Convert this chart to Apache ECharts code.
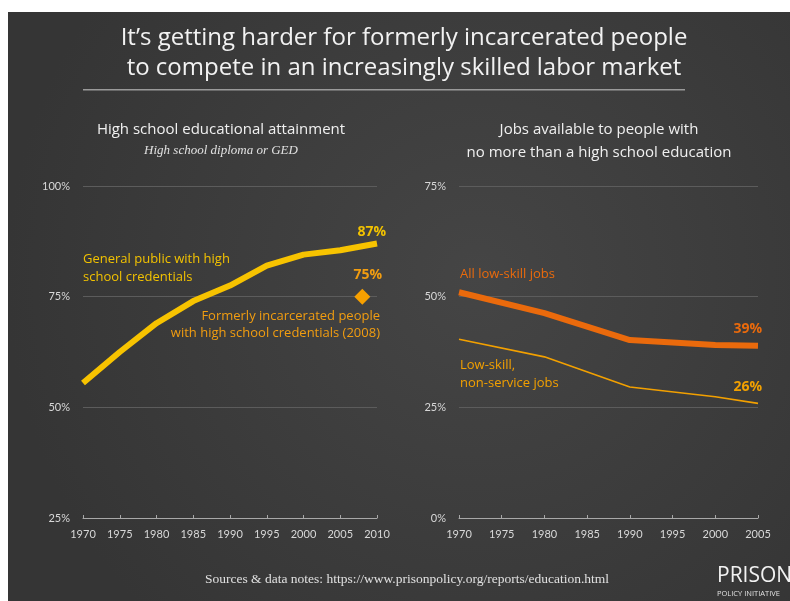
<!DOCTYPE html>
<html><head><meta charset="utf-8">
<script src="https://cdn.jsdelivr.net/npm/echarts@6/dist/echarts.min.js"></script>
<style>html,body{margin:0;padding:0;background:#fff}#c{width:790px;height:601px}</style>
</head><body><div id="c"></div>
<script>
const yearsLeft = [1970, 1975, 1980, 1985, 1990, 1995, 2000, 2005, 2010];
const generalPublic = [55.5, 62.5, 69, 74, 77.5, 82, 84.5, 85.5, 87];
const formerlyIncarcerated = [[2008, 75]];
const yearsRight = [1970, 1980, 1990, 2000, 2005];
const allLowSkill = [51, 46.3, 40.2, 39.1, 38.9];
const nonService = [40.4, 36.4, 29.6, 27.4, 25.9];

const F = 'Lato, "Open Sans", sans-serif';
const O = '"Open Sans", Lato, sans-serif';
const axisLbl = {color:'#d8d8d8', fontSize:11, fontFamily:F};
const chart = echarts.init(document.getElementById('c'));
function xAxis(gi,min,max){return {type:'value',gridIndex:gi,min:min,max:max,interval:5,
  axisLine:{show:true,lineStyle:{color:'#a8a8a8',width:1}},
  axisTick:{show:true,inside:true,length:3,lineStyle:{color:'#a8a8a8'}},
  axisLabel:Object.assign({margin:11,formatter:v=>String(v)},axisLbl),splitLine:{show:false}};}
function yAxis(gi,min,max){return {type:'value',gridIndex:gi,min:min,max:max,interval:25,
  axisLine:{show:false},axisTick:{show:false},
  axisLabel:Object.assign({margin:13,formatter:v=>v+'%'},axisLbl),
  splitLine:{show:true,lineStyle:{color:'#5c5c5c',width:1}}};}
chart.setOption({
  animation:false,
  backgroundColor:'#fff',
  grid:[{left:83,right:413,top:186,bottom:83},{left:459,right:32,top:186,bottom:83}],
  xAxis:[xAxis(0,1970,2010),xAxis(1,1970,2005)],
  yAxis:[yAxis(0,25,100),yAxis(1,0,75)],
  series:[
    {type:'line',xAxisIndex:0,yAxisIndex:0,data:yearsLeft.map((y,i)=>[y,generalPublic[i]]),
     symbol:'none',lineStyle:{color:'#f7c300',width:6},z:5},
    {type:'scatter',xAxisIndex:0,yAxisIndex:0,data:formerlyIncarcerated,symbol:'diamond',symbolSize:16,
     itemStyle:{color:'#f7a000',opacity:1},z:6},
    {type:'line',xAxisIndex:1,yAxisIndex:1,data:yearsRight.map((y,i)=>[y,allLowSkill[i]]),
     symbol:'none',lineStyle:{color:'#ea6a0c',width:6},z:5},
    {type:'line',xAxisIndex:1,yAxisIndex:1,data:yearsRight.map((y,i)=>[y,nonService[i]]),
     symbol:'none',lineStyle:{color:'#f2a000',width:1.6},z:5}
  ],
  graphic:[
    {type:'rect',z:-10,silent:true,shape:{x:8,y:12,width:782,height:589},
     style:{fill:{type:'radial',x:0.6,y:0.45,r:0.8,colorStops:[{offset:0,color:'#454545'},{offset:1,color:'#353535'}]}}},
    {type:'text',x:404,y:26,style:{text:"It\u2019s getting harder for formerly incarcerated people",fill:'#f2f2f2',font:'24px '+O,textAlign:'center'}},
    {type:'text',x:404,y:56,style:{text:"to compete in an increasingly skilled labor market",fill:'#f2f2f2',font:'24px '+O,textAlign:'center'}},
    {type:'rect',shape:{x:83,y:89,width:602,height:1.5},style:{fill:'#9a9a9a'}},
    {type:'text',x:221,y:122,style:{text:'High school educational attainment',fill:'#f0f0f0',font:'15px '+O,textAlign:'center'}},
    {type:'text',x:221,y:144,style:{text:'High school diploma or GED',fill:'#e0e0e0',font:'italic 13px "Liberation Serif", serif',textAlign:'center'}},
    {type:'text',x:599,y:122,style:{text:'Jobs available to people with',fill:'#f0f0f0',font:'15px '+O,textAlign:'center'}},
    {type:'text',x:599,y:145,style:{text:'no more than a high school education',fill:'#f0f0f0',font:'15px '+O,textAlign:'center'}},
    {type:'text',x:83,y:250,style:{text:'General public with high\nschool credentials',fill:'#f2c200',font:'13px '+O,lineHeight:18}},
    {type:'text',x:386,y:225,style:{text:'87%',fill:'#f2c200',font:'bold 14px '+O,textAlign:'right'}},
    {type:'text',x:382,y:268,style:{text:'75%',fill:'#f29d10',font:'bold 14px '+O,textAlign:'right'}},
    {type:'text',x:380,y:308,style:{text:'Formerly incarcerated people\nwith high school credentials (2008)',fill:'#f29d10',font:'13px '+O,lineHeight:17,textAlign:'right'}},
    {type:'text',x:460,y:268,style:{text:'All low-skill jobs',fill:'#ea6a0c',font:'13px '+O}},
    {type:'text',x:762,y:322,style:{text:'39%',fill:'#ea6a0c',font:'bold 14px '+O,textAlign:'right'}},
    {type:'text',x:460,y:356,style:{text:'Low-skill,\nnon-service jobs',fill:'#f2a000',font:'13px '+O,lineHeight:18}},
    {type:'text',x:762,y:380,style:{text:'26%',fill:'#f2a000',font:'bold 14px '+O,textAlign:'right'}},
    {type:'text',x:205,y:572,style:{text:'Sources & data notes: https://www.prisonpolicy.org/reports/education.html',fill:'#e0e0e0',font:'13.5px "Liberation Serif", serif'}},
    {type:'text',x:717,y:566,style:{text:'PRISON',fill:'#f2f2f2',font:'21px '+O}},
    {type:'text',x:717,y:590,style:{text:'POLICY INITIATIVE',fill:'#e0e0e0',font:'7.5px '+O}}
  ]
});
</script></body></html>
